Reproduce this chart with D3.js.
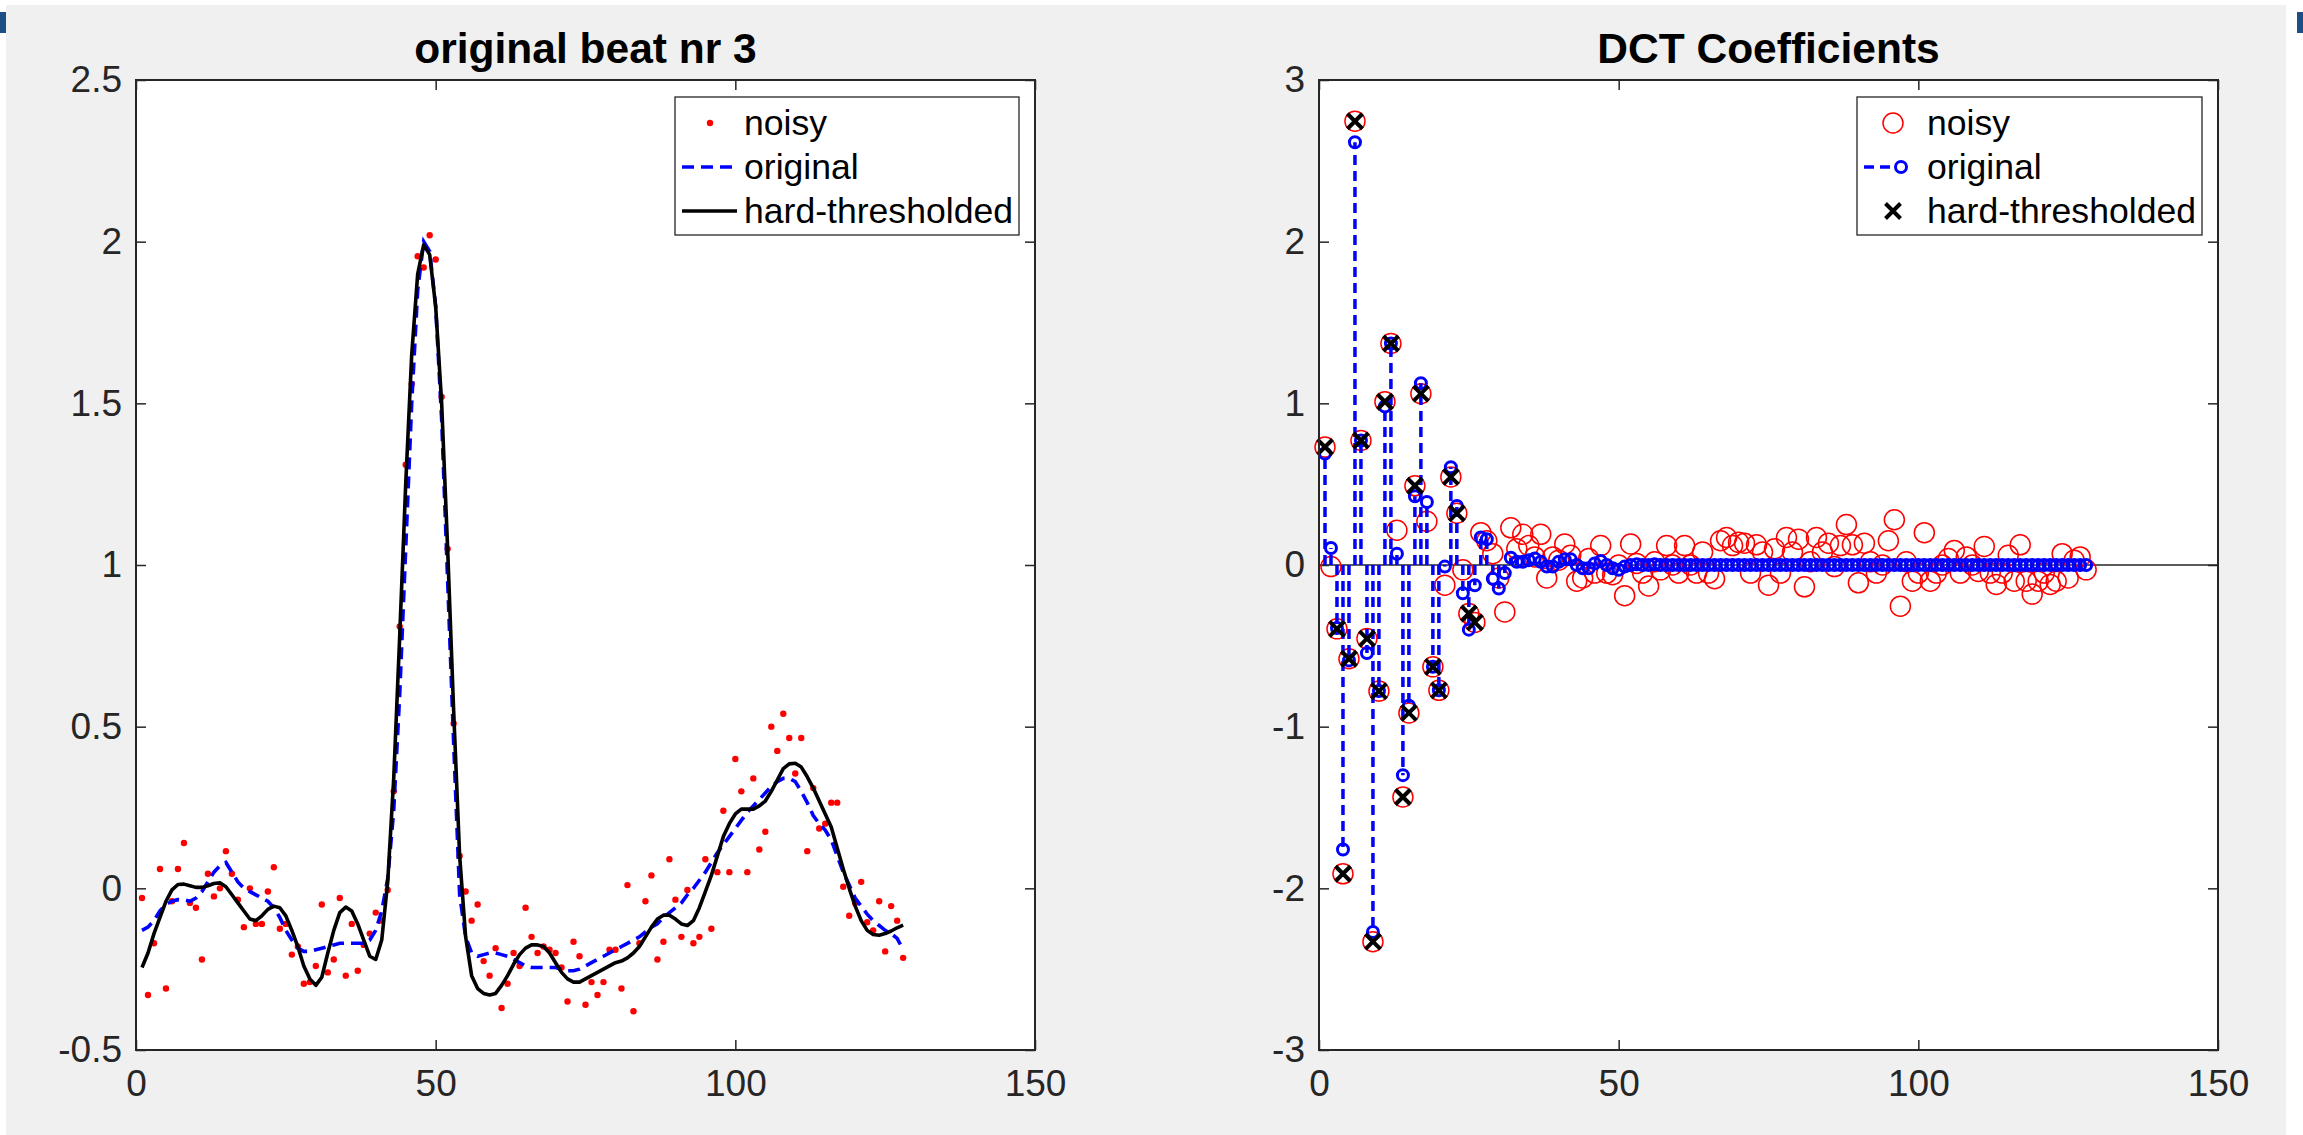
<!DOCTYPE html>
<html>
<head>
<meta charset="utf-8">
<script src="https://cdn.jsdelivr.net/npm/d3@7"></script>
<style>
  body { margin: 0; background: #fff; }
  svg { display: block; font-family: "Liberation Sans", Arial, Helvetica, sans-serif; }
</style>
</head>
<body>
<div id="chart"></div>
<script>
// ---- data ----
// left panel: beat samples 1..128
var beatNoisy = [-0.03,-0.33,-0.17,0.06,-0.31,-0.04,0.06,0.14,-0.045,-0.06,
  -0.22,0.045,-0.025,0.0,0.115,0.045,-0.035,-0.12,0.0,-0.11,
  -0.11,-0.01,0.065,-0.125,-0.11,-0.205,-0.18,-0.295,-0.29,-0.24,
  -0.05,-0.26,-0.22,-0.03,-0.27,-0.11,-0.255,-0.175,-0.14,-0.075,
  -0.10,-0.005,0.30,0.81,1.31,1.56,1.955,1.92,2.02,1.945,
  1.52,1.05,0.51,0.1,-0.01,-0.1,-0.05,-0.225,-0.27,-0.185,
  -0.37,-0.295,-0.2,-0.24,-0.06,-0.15,-0.2,-0.18,-0.19,-0.2,
  -0.245,-0.35,-0.165,-0.21,-0.36,-0.29,-0.33,-0.29,-0.19,-0.19,
  -0.31,0.01,-0.38,-0.17,-0.04,0.04,-0.22,-0.165,0.09,-0.035,
  -0.15,-0.005,-0.17,-0.15,0.09,-0.125,0.05,0.24,0.05,0.4,
  0.3,0.05,0.34,0.12,0.175,0.5,0.425,0.54,0.465,0.355,
  0.465,0.115,0.31,0.185,0.2,0.265,0.265,0.005,-0.085,-0.045,
  0.02,-0.105,-0.13,-0.04,-0.195,-0.055,-0.1,-0.215];

var beatOriginal = [-0.13,-0.12,-0.10,-0.07,-0.05,-0.04,-0.035,-0.035,-0.04,-0.03,
  -0.01,0.02,0.05,0.07,0.08,0.05,0.02,0.0,-0.01,-0.02,
  -0.03,-0.04,-0.06,-0.09,-0.13,-0.16,-0.185,-0.195,-0.195,-0.19,
  -0.185,-0.18,-0.175,-0.17,-0.17,-0.17,-0.17,-0.17,-0.16,-0.13,
  -0.07,0.03,0.24,0.6,1.05,1.5,1.85,2.0,1.97,1.8,
  1.45,0.95,0.45,-0.02,-0.15,-0.2,-0.21,-0.205,-0.2,-0.2,
  -0.205,-0.21,-0.22,-0.23,-0.24,-0.245,-0.245,-0.245,-0.245,-0.245,
  -0.25,-0.255,-0.255,-0.25,-0.24,-0.23,-0.22,-0.21,-0.2,-0.19,
  -0.18,-0.17,-0.16,-0.15,-0.135,-0.12,-0.11,-0.09,-0.075,-0.06,
  -0.045,-0.02,0.0,0.025,0.05,0.08,0.11,0.135,0.16,0.185,
  0.21,0.235,0.255,0.275,0.295,0.315,0.33,0.34,0.34,0.33,
  0.3,0.265,0.225,0.2,0.18,0.15,0.1,0.05,0.01,-0.03,
  -0.055,-0.08,-0.1,-0.115,-0.13,-0.14,-0.155,-0.19];

var beatHard = [-0.245,-0.2,-0.14,-0.09,-0.04,-0.005,0.012,0.013,0.008,0.003,
  0.003,0.008,0.015,0.017,0.005,-0.02,-0.045,-0.07,-0.095,-0.1,
  -0.085,-0.065,-0.055,-0.06,-0.085,-0.13,-0.18,-0.24,-0.28,-0.3,
  -0.275,-0.2,-0.13,-0.075,-0.058,-0.07,-0.11,-0.16,-0.21,-0.22,
  -0.16,0.02,0.34,0.78,1.25,1.65,1.9,1.99,1.96,1.8,
  1.5,1.05,0.55,0.1,-0.15,-0.27,-0.31,-0.325,-0.33,-0.325,
  -0.3,-0.27,-0.235,-0.205,-0.185,-0.175,-0.175,-0.18,-0.2,-0.23,
  -0.26,-0.28,-0.29,-0.29,-0.28,-0.27,-0.26,-0.25,-0.24,-0.23,
  -0.225,-0.215,-0.2,-0.18,-0.15,-0.12,-0.095,-0.083,-0.083,-0.095,
  -0.11,-0.115,-0.1,-0.06,-0.01,0.04,0.1,0.16,0.2,0.23,
  0.245,0.245,0.245,0.255,0.27,0.3,0.335,0.37,0.385,0.387,
  0.375,0.345,0.31,0.27,0.23,0.19,0.125,0.06,0.0,-0.055,
  -0.1,-0.13,-0.143,-0.145,-0.14,-0.132,-0.122,-0.114];

// right panel: DCT coefficients 1..128
var dctNoisy = [0.73,-0.01,-0.395,-1.91,-0.58,2.745,0.77,-0.455,-2.33,-0.78,
  1.01,1.37,0.215,-1.435,-0.915,0.49,1.06,0.27,-0.63,-0.775,
  -0.125,0.545,0.32,-0.03,-0.3,-0.355,0.2,0.15,0.07,-0.08,
  -0.29,0.23,0.1,0.19,0.12,0.05,0.19,-0.08,0.05,0.03,
  0.13,0.06,-0.1,-0.08,0.04,-0.05,0.12,-0.05,-0.06,0.0,
  -0.19,0.13,0.01,-0.05,-0.13,0.02,-0.03,0.12,0.0,-0.05,
  0.12,0.0,-0.05,0.08,-0.05,-0.085,0.15,0.17,0.12,0.14,
  0.135,-0.05,0.125,0.08,-0.125,0.1,-0.05,0.17,0.08,0.16,
  -0.135,0.02,0.17,0.08,0.135,-0.01,0.12,0.25,0.125,-0.11,
  0.135,0.02,-0.05,0.0,0.15,0.28,-0.255,0.02,-0.1,-0.05,
  0.2,-0.1,-0.05,0.0,0.04,0.09,-0.05,0.05,0.0,-0.04,
  0.115,-0.05,-0.12,-0.05,0.06,-0.1,0.125,-0.1,-0.18,-0.1,
  -0.05,-0.12,-0.1,0.07,-0.08,0.03,0.05,-0.03];

var dctOriginal = [0.69,0.105,-0.39,-1.76,-0.59,2.615,0.77,-0.545,-2.27,-0.78,
  0.98,1.37,0.07,-1.3,-0.87,0.425,1.125,0.39,-0.63,-0.775,
  -0.01,0.605,0.365,-0.175,-0.4,-0.125,0.17,0.16,-0.085,-0.145,
  -0.05,0.045,0.02,0.02,0.03,0.04,0.02,-0.01,-0.01,0.02,
  0.035,0.035,0.0,-0.02,-0.02,0.01,0.025,0.0,-0.02,-0.03,
  -0.01,0.0,0.005,0.0,0.0,0.005,0.0,0.0,0.0,0.0,
  0,0,0,0,0,0,0,0,0,0,
  0,0,0,0,0,0,0,0,0,0,
  0,0,0,0,0,0,0,0,0,0,
  0,0,0,0,0,0,0,0,0,0,
  0,0,0,0,0,0,0,0,0,0,
  0,0,0,0,0,0,0,0,0,0,
  0,0,0,0,0,0,0,0];

// coefficients that survive the hard threshold
var hardIdx = [1,3,4,5,6,7,8,9,10,11,12,14,15,16,17,19,20,22,23,25,26];

var xTicks = [0, 50, 100, 150];
var leftYTicks = [-0.5, 0, 0.5, 1, 1.5, 2, 2.5];
var rightYTicks = [-3, -2, -1, 0, 1, 2, 3];

// ---- layout ----
var svgWidth = 2303;
var svgHeight = 1135;
var plotTop = 80, plotBottom = 1050;
var axisColor = "#262626";

var svg = d3.select("#chart").append("svg")
  .attr("width", svgWidth)
  .attr("height", svgHeight);

// figure background
svg.append("rect").attr("x", 6).attr("y", 5).attr("width", 2280).attr("height", 1130).attr("fill", "#f0f0f0");
svg.append("rect").attr("x", 0).attr("y", 12).attr("width", 6).attr("height", 21).attr("fill", "#1d4f86");
svg.append("rect").attr("x", 2297).attr("y", 12).attr("width", 6).attr("height", 21).attr("fill", "#1d4f86");

function makeAxes(x0, x1, yDomain, yTickVals, title) {
  var x = d3.scaleLinear().domain([0, 150]).range([x0, x1]);
  var y = d3.scaleLinear().domain(yDomain).range([plotBottom, plotTop]);
  var g = svg.append("g");

  g.append("rect")
    .attr("x", x0).attr("y", plotTop)
    .attr("width", x1 - x0).attr("height", plotBottom - plotTop)
    .attr("fill", "#fff");

  var fmt = function (d) { return String(d); };

  var bottom = g.append("g").attr("transform", `translate(0, ${plotBottom})`)
    .call(d3.axisBottom(x).tickValues(xTicks).tickSize(-10).tickPadding(20).tickFormat(fmt));
  var top = g.append("g").attr("transform", `translate(0, ${plotTop})`)
    .call(d3.axisTop(x).tickValues(xTicks).tickSize(-10).tickFormat(""));
  var left = g.append("g").attr("transform", `translate(${x0}, 0)`)
    .call(d3.axisLeft(y).tickValues(yTickVals).tickSize(-10).tickPadding(14).tickFormat(fmt));
  var right = g.append("g").attr("transform", `translate(${x1}, 0)`)
    .call(d3.axisRight(y).tickValues(yTickVals).tickSize(-10).tickFormat(""));

  [bottom, top, left, right].forEach(function (a) {
    a.select(".domain").remove();
    a.selectAll(".tick line").attr("stroke", axisColor).attr("stroke-width", 1.5);
    a.selectAll(".tick text")
      .attr("fill", axisColor)
      .attr("font-size", "37px");
  });

  var frame = g.append("rect")
    .attr("x", x0).attr("y", plotTop)
    .attr("width", x1 - x0).attr("height", plotBottom - plotTop)
    .attr("fill", "none")
    .attr("stroke", axisColor)
    .attr("stroke-width", 2);

  g.append("text")
    .attr("x", (x0 + x1) / 2).attr("y", 63)
    .attr("text-anchor", "middle")
    .attr("font-size", "42.5px")
    .attr("font-weight", "bold")
    .attr("fill", "#000")
    .text(title);

  return { x: x, y: y, g: g, frame: frame };
}

// ---- left panel: original beat ----
var L = makeAxes(136, 1035, [-0.5, 2.5], leftYTicks, "original beat nr 3");
var lineOf = function (vals) {
  return d3.line().x((d, i) => L.x(i + 1)).y(d => L.y(d))(vals);
};

L.g.selectAll("circle.noisy")
  .data(beatNoisy)
  .enter()
  .append("circle")
  .attr("cx", (d, i) => L.x(i + 1))
  .attr("cy", d => L.y(d))
  .attr("r", 3.2)
  .attr("fill", "#ff0000");

L.g.append("path")
  .attr("d", lineOf(beatOriginal))
  .attr("fill", "none")
  .attr("stroke", "#0000ff")
  .attr("stroke-width", 3.6)
  .attr("stroke-dasharray", "12,7");

L.g.append("path")
  .attr("d", lineOf(beatHard))
  .attr("fill", "none")
  .attr("stroke", "#000")
  .attr("stroke-width", 3.6)
  .attr("stroke-linejoin", "round");

L.frame.raise();

// ---- right panel: DCT coefficients ----
var R = makeAxes(1319, 2218, [-3, 3], rightYTicks, "DCT Coefficients");

// stem baseline
R.g.append("line")
  .attr("x1", R.x(0)).attr("x2", R.x(150))
  .attr("y1", R.y(0)).attr("y2", R.y(0))
  .attr("stroke", axisColor)
  .attr("stroke-width", 1.3);

R.g.selectAll("circle.noisy")
  .data(dctNoisy)
  .enter()
  .append("circle")
  .attr("cx", (d, i) => R.x(i + 1))
  .attr("cy", d => R.y(d))
  .attr("r", 10)
  .attr("fill", "none")
  .attr("stroke", "#ff0000")
  .attr("stroke-width", 1.5);

R.g.selectAll("line.stem")
  .data(dctOriginal)
  .enter()
  .append("line")
  .attr("x1", (d, i) => R.x(i + 1)).attr("x2", (d, i) => R.x(i + 1))
  .attr("y1", R.y(0)).attr("y2", d => R.y(d))
  .attr("stroke", "#0000ff")
  .attr("stroke-width", 3.5)
  .attr("stroke-dasharray", "10,6");

R.g.selectAll("circle.orig")
  .data(dctOriginal)
  .enter()
  .append("circle")
  .attr("cx", (d, i) => R.x(i + 1))
  .attr("cy", d => R.y(d))
  .attr("r", 5.5)
  .attr("fill", "none")
  .attr("stroke", "#0000ff")
  .attr("stroke-width", 3);

var xMark = function (cx, cy, s) {
  return `M${cx - s},${cy - s}L${cx + s},${cy + s}M${cx - s},${cy + s}L${cx + s},${cy - s}`;
};

R.g.selectAll("path.hard")
  .data(hardIdx)
  .enter()
  .append("path")
  .attr("d", k => xMark(R.x(k), R.y(dctNoisy[k - 1]), 7.5))
  .attr("stroke", "#000")
  .attr("stroke-width", 4);

R.frame.raise();

// ---- legends ----
function legendBox(x, y, w, h) {
  return svg.append("rect")
    .attr("x", x).attr("y", y).attr("width", w).attr("height", h)
    .attr("fill", "#fff")
    .attr("stroke", axisColor)
    .attr("stroke-width", 1.3);
}
var rowY = [123, 167, 211];
var legendLabels = ["noisy", "original", "hard-thresholded"];

legendBox(675, 97, 344, 138);
svg.append("circle").attr("cx", 710).attr("cy", rowY[0]).attr("r", 3.2).attr("fill", "#ff0000");
svg.append("line").attr("x1", 682).attr("x2", 737).attr("y1", rowY[1]).attr("y2", rowY[1])
  .attr("stroke", "#0000ff").attr("stroke-width", 3.6).attr("stroke-dasharray", "12,7");
svg.append("line").attr("x1", 682).attr("x2", 737).attr("y1", rowY[2]).attr("y2", rowY[2])
  .attr("stroke", "#000").attr("stroke-width", 3.6);
legendLabels.forEach(function (t, i) {
  svg.append("text").attr("x", 744).attr("y", rowY[i]).attr("dy", "0.35em")
    .attr("font-size", "35.6px").attr("fill", "#000").text(t);
});

legendBox(1857, 97, 345, 138);
svg.append("circle").attr("cx", 1893).attr("cy", rowY[0]).attr("r", 10)
  .attr("fill", "none").attr("stroke", "#ff0000").attr("stroke-width", 1.5);
svg.append("line").attr("x1", 1864).attr("x2", 1911).attr("y1", rowY[1]).attr("y2", rowY[1])
  .attr("stroke", "#0000ff").attr("stroke-width", 3.5).attr("stroke-dasharray", "10,6");
svg.append("circle").attr("cx", 1901).attr("cy", rowY[1]).attr("r", 5.5)
  .attr("fill", "#fff").attr("stroke", "#0000ff").attr("stroke-width", 3);
svg.append("path").attr("d", xMark(1893, rowY[2], 7.5)).attr("stroke", "#000").attr("stroke-width", 4);
legendLabels.forEach(function (t, i) {
  svg.append("text").attr("x", 1927).attr("y", rowY[i]).attr("dy", "0.35em")
    .attr("font-size", "35.6px").attr("fill", "#000").text(t);
});
</script>
</body>
</html>
